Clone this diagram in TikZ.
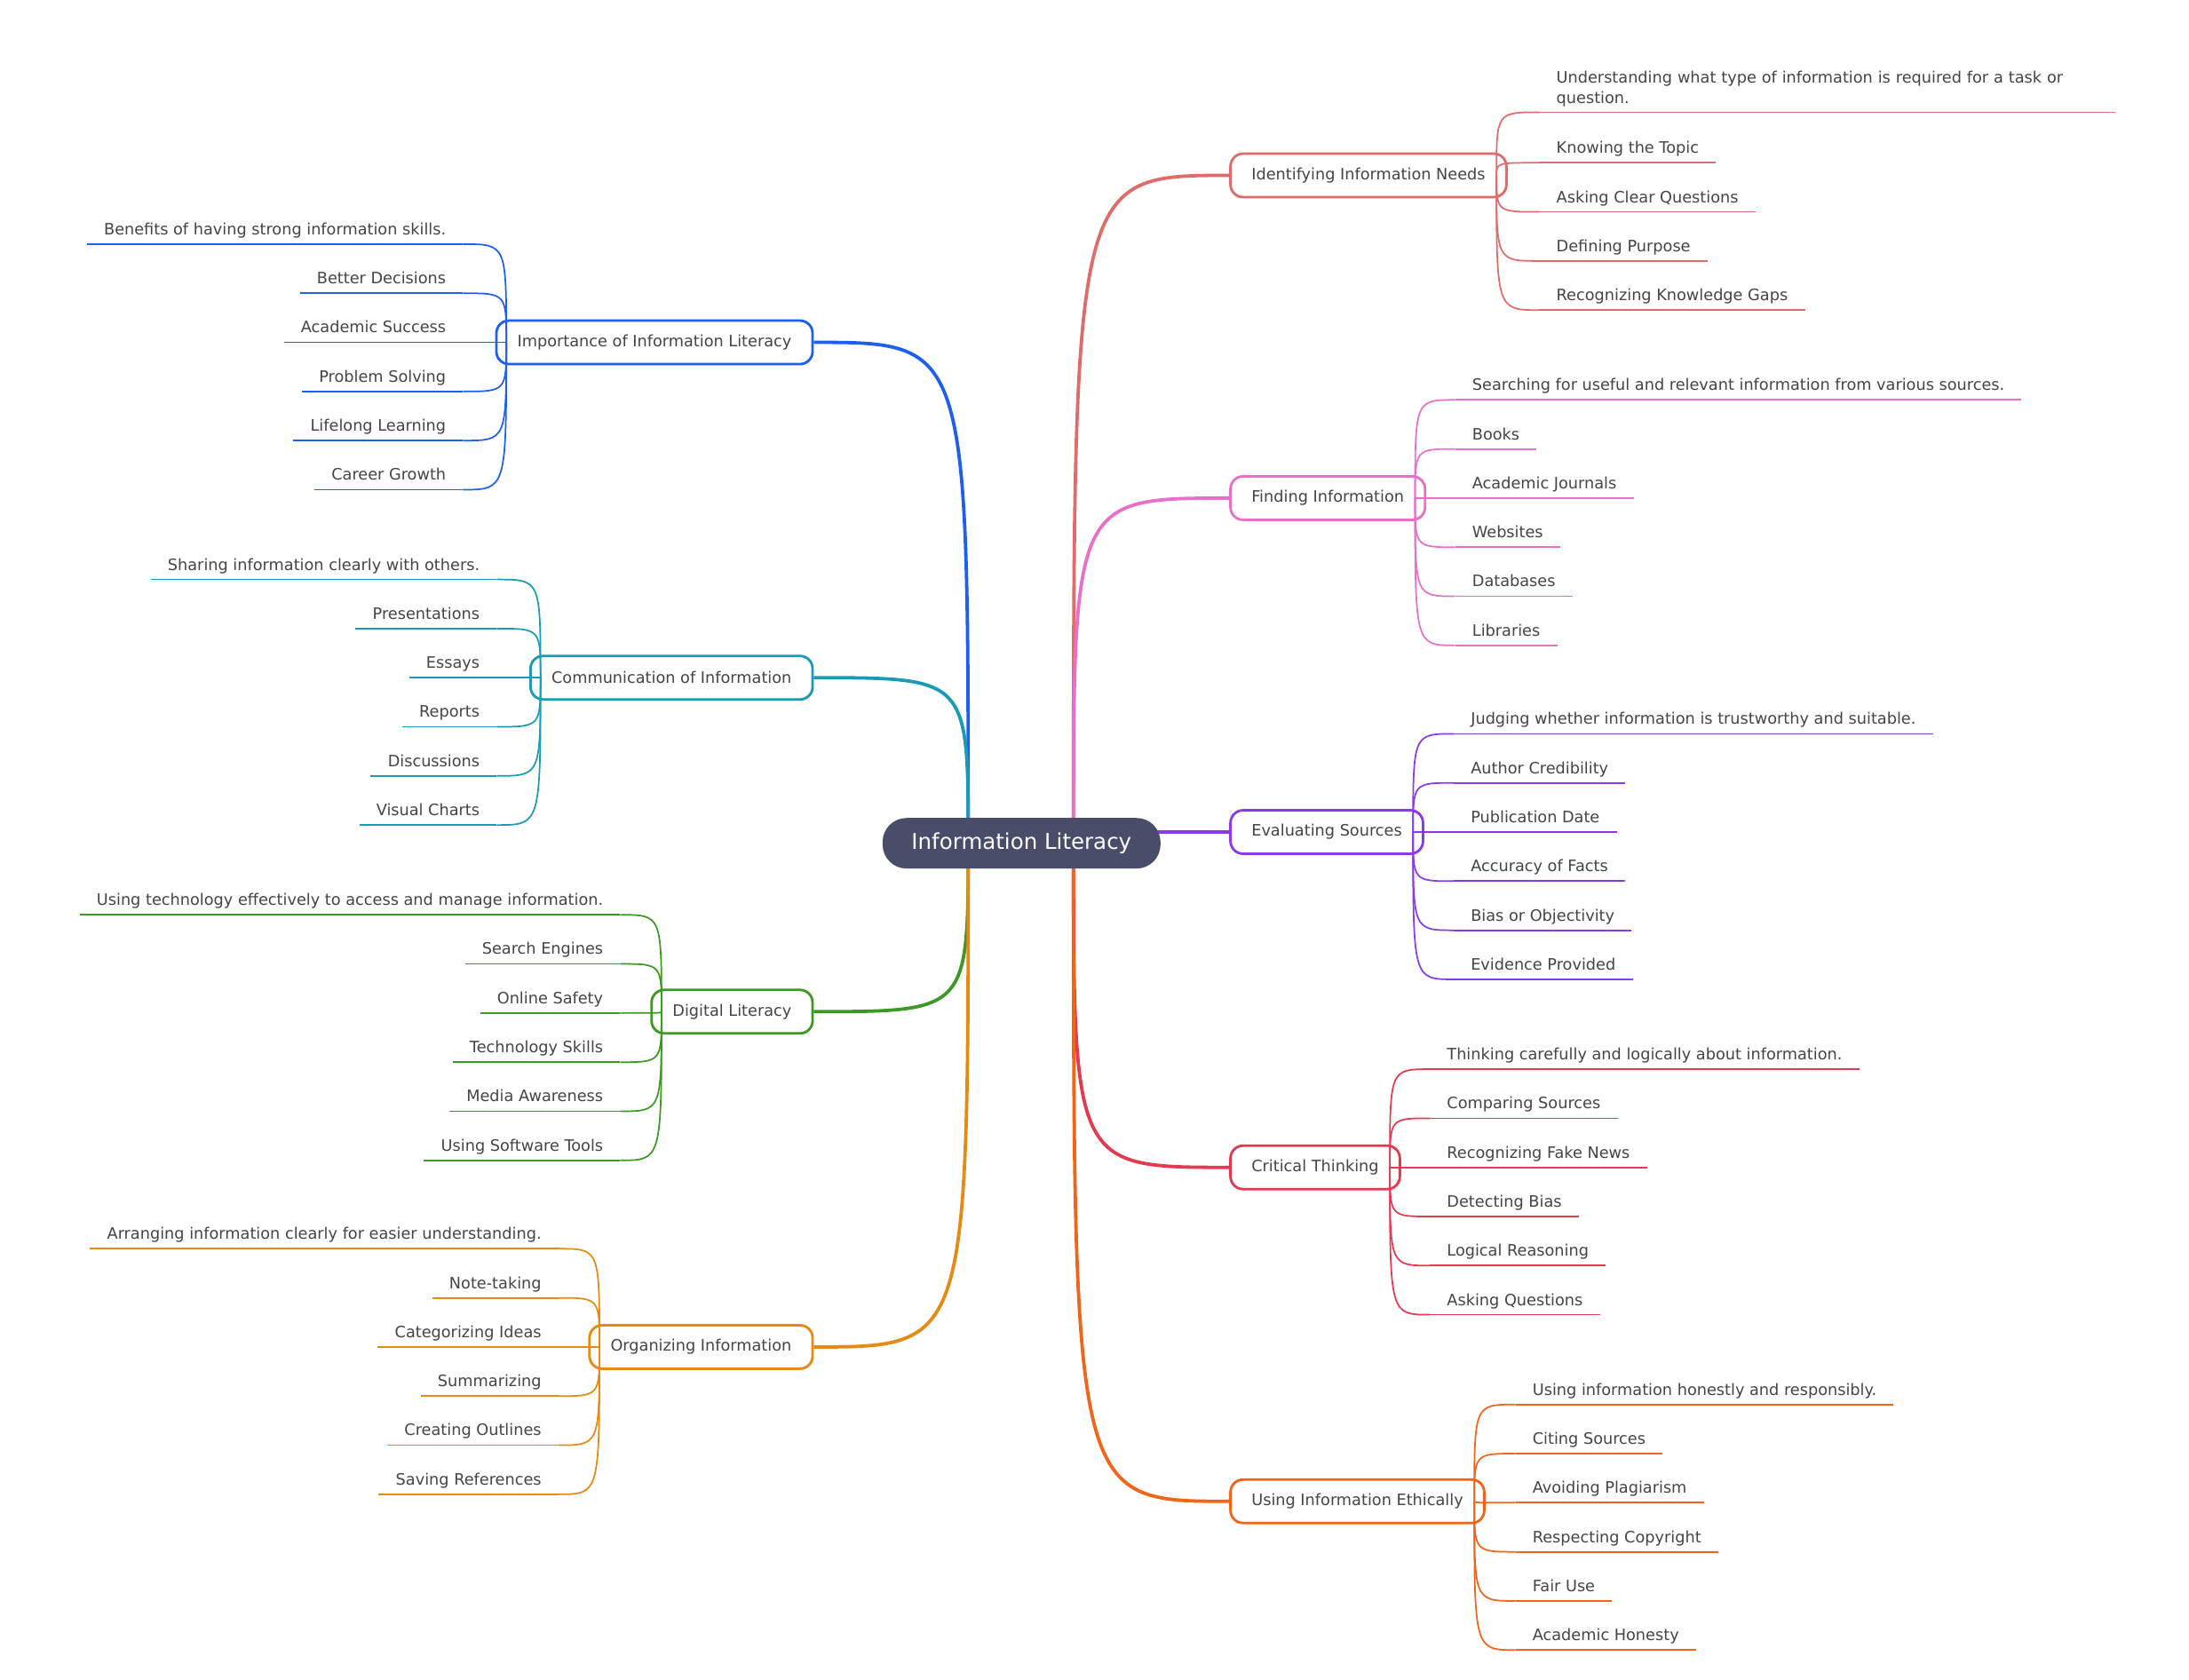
\documentclass[tikz,border=0pt]{standalone}
\usepackage{fontspec}
\setmainfont{DejaVu Sans}
\usepackage{tikz}
\usetikzlibrary{positioning, calc}
\definecolor{centerc}{HTML}{4A4D6A}
\definecolor{textc}{HTML}{444444}
\definecolor{idnc}{HTML}{E06B6B}
\definecolor{fndc}{HTML}{E870C8}
\definecolor{evac}{HTML}{8A3BE8}
\definecolor{crtc}{HTML}{E33A52}
\definecolor{ethc}{HTML}{F26418}
\definecolor{impc}{HTML}{1F5FEF}
\definecolor{comc}{HTML}{1B9BB3}
\definecolor{digc}{HTML}{3C9A24}
\definecolor{orgc}{HTML}{E58A12}

\begin{document}
\begin{tikzpicture}[x=1pt, y=-1pt, font=\fontsize{11.2}{14}\selectfont, text=textc]
  \tikzstyle{topic}=[rounded corners=9pt, draw, line width=1.8pt, fill=white, minimum height=31pt, inner xsep=15pt]
  \tikzstyle{core}=[rounded corners=17pt, fill=centerc, text=white, minimum width=198pt,
  minimum height=36pt, font=\fontsize{15.5}{18}\selectfont]
  \tikzstyle{branch}=[line width=2.4pt]
  \tikzstyle{twig}=[line width=1.1pt]
  \tikzstyle{longleaf}=[inner xsep=12pt, inner ysep=4pt, align=left]
  \tikzstyle{leaf}=[longleaf, text height=8.5pt, text depth=2.5pt]
  \useasboundingbox (0,0) rectangle (1560,1197);

  % right side topics
  \node (idn) at (876,125) [topic, draw=idnc, anchor=west] {Identifying Information Needs};
  \node (fnd) at (876,355) [topic, draw=fndc, anchor=west] {Finding Information};
  \node (eva) at (876,593) [topic, draw=evac, anchor=west] {Evaluating Sources};
  \node (crt) at (876,832) [topic, draw=crtc, anchor=west] {Critical Thinking};
  \node (eth) at (876,1070) [topic, draw=ethc, anchor=west] {Using Information Ethically};

  % left side topics
  \node (imp) at (580,244) [topic, draw=impc, anchor=east] {Importance of Information Literacy};
  \node (com) at (580,483) [topic, draw=comc, anchor=east] {Communication of Information};
  \node (dig) at (580,721) [topic, draw=digc, anchor=east] {Digital Literacy};
  \node (org) at (580,960) [topic, draw=orgc, anchor=east] {Organizing Information};

  \coordinate (rs) at (765,601);
  \coordinate (ls) at (690,601);
  \foreach \t/\c in {idn/idnc, fnd/fndc, eva/evac, crt/crtc, eth/ethc}
    \draw[branch, \c] (rs) .. controls (rs |- \t.west) .. (\t.west);
  \foreach \t/\c in {imp/impc, com/comc, dig/digc, org/orgc}
    \draw[branch, \c] (ls) .. controls (ls |- \t.east) .. (\t.east);
  \node (root) at (728,601) [core] {Information Literacy};

  % right leaves
  \coordinate (idn-o) at ([xshift=-8pt]idn.east);
  \node (idn-0) at (1097,80) [longleaf, anchor=south west, text width=386pt]
  {Understanding what type of information is required for a task or\\question.};
  \foreach \y/\l [count=\i] in {116/Knowing the Topic, 151/Asking Clear Questions,
    186/Defining Purpose, 221/Recognizing Knowledge Gaps}
    \node (idn-\i) at (1097,\y) [leaf, anchor=south west] {\l};
  \foreach \i in {0,...,4} {
    \draw[twig, idnc] (idn-o) .. controls (idn-o |- idn-\i.south west) .. (idn-\i.south west);
    \draw[twig, idnc] (idn-\i.south west) -- (idn-\i.south east);
  }

  \coordinate (fnd-o) at ([xshift=-8pt]fnd.east);
  \foreach \y/\l [count=\i] in {285/Searching for useful and relevant information from various sources.,
    320/Books, 355/Academic Journals, 390/Websites, 425/Databases, 460/Libraries} {
    \node (fnd-\i) at (1037,\y) [leaf, anchor=south west] {\l};
    \draw[twig, fndc] (fnd-o) .. controls (fnd-o |- fnd-\i.south west) .. (fnd-\i.south west);
    \draw[twig, fndc] (fnd-\i.south west) -- (fnd-\i.south east);
  }

  \coordinate (eva-o) at ([xshift=-8pt]eva.east);
  \foreach \y/\l [count=\i] in {523/Judging whether information is trustworthy and suitable.,
    558/Author Credibility, 593/Publication Date, 628/Accuracy of Facts,
    663/Bias or Objectivity, 698/Evidence Provided} {
    \node (eva-\i) at (1036,\y) [leaf, anchor=south west] {\l};
    \draw[twig, evac] (eva-o) .. controls (eva-o |- eva-\i.south west) .. (eva-\i.south west);
    \draw[twig, evac] (eva-\i.south west) -- (eva-\i.south east);
  }

  \coordinate (crt-o) at ([xshift=-8pt]crt.east);
  \foreach \y/\l [count=\i] in {762/Thinking carefully and logically about information.,
    797/Comparing Sources, 832/Recognizing Fake News, 867/Detecting Bias,
    902/Logical Reasoning, 937/Asking Questions} {
    \node (crt-\i) at (1019,\y) [leaf, anchor=south west] {\l};
    \draw[twig, crtc] (crt-o) .. controls (crt-o |- crt-\i.south west) .. (crt-\i.south west);
    \draw[twig, crtc] (crt-\i.south west) -- (crt-\i.south east);
  }

  \coordinate (eth-o) at ([xshift=-8pt]eth.east);
  \foreach \y/\l [count=\i] in {1001/Using information honestly and responsibly.,
    1036/Citing Sources, 1071/Avoiding Plagiarism, 1106/Respecting Copyright,
    1141/Fair Use, 1176/Academic Honesty} {
    \node (eth-\i) at (1080,\y) [leaf, anchor=south west] {\l};
    \draw[twig, ethc] (eth-o) .. controls (eth-o |- eth-\i.south west) .. (eth-\i.south west);
    \draw[twig, ethc] (eth-\i.south west) -- (eth-\i.south east);
  }

  % left leaves
  \coordinate (imp-o) at ([xshift=8pt]imp.west);
  \foreach \y/\l [count=\i] in {174/Benefits of having strong information skills.,
    209/Better Decisions, 244/Academic Success, 279/Problem Solving,
    314/Lifelong Learning, 349/Career Growth} {
    \node (imp-\i) at (330,\y) [leaf, anchor=south east] {\l};
    \draw[twig, impc] (imp-o) .. controls (imp-o |- imp-\i.south east) .. (imp-\i.south east);
    \draw[twig, impc] (imp-\i.south east) -- (imp-\i.south west);
  }

  \coordinate (com-o) at ([xshift=8pt]com.west);
  \foreach \y/\l [count=\i] in {413/Sharing information clearly with others.,
    448/Presentations, 483/Essays, 518/Reports, 553/Discussions, 588/Visual Charts} {
    \node (com-\i) at (354,\y) [leaf, anchor=south east] {\l};
    \draw[twig, comc] (com-o) .. controls (com-o |- com-\i.south east) .. (com-\i.south east);
    \draw[twig, comc] (com-\i.south east) -- (com-\i.south west);
  }

  \coordinate (dig-o) at ([xshift=8pt]dig.west);
  \foreach \y/\l [count=\i] in {652/Using technology effectively to access and manage information.,
    687/Search Engines, 722/Online Safety, 757/Technology Skills,
    792/Media Awareness, 827/Using Software Tools} {
    \node (dig-\i) at (442,\y) [leaf, anchor=south east] {\l};
    \draw[twig, digc] (dig-o) .. controls (dig-o |- dig-\i.south east) .. (dig-\i.south east);
    \draw[twig, digc] (dig-\i.south east) -- (dig-\i.south west);
  }

  \coordinate (org-o) at ([xshift=8pt]org.west);
  \foreach \y/\l [count=\i] in {890/Arranging information clearly for easier understanding.,
    925/Note-taking, 960/Categorizing Ideas, 995/Summarizing,
    1030/Creating Outlines, 1065/Saving References} {
    \node (org-\i) at (398,\y) [leaf, anchor=south east] {\l};
    \draw[twig, orgc] (org-o) .. controls (org-o |- org-\i.south east) .. (org-\i.south east);
    \draw[twig, orgc] (org-\i.south east) -- (org-\i.south west);
  }
\end{tikzpicture}
\end{document}
